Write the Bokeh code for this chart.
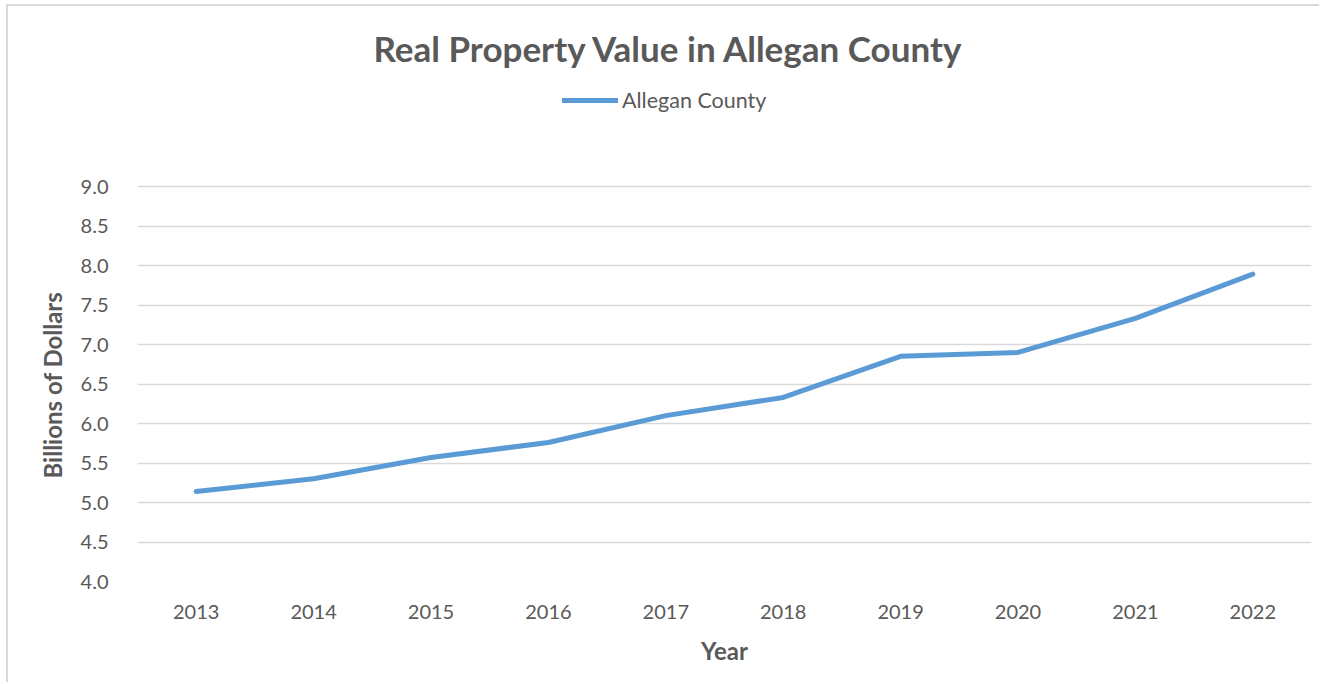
from bokeh.plotting import figure
from bokeh.models import FactorRange, Range1d, FixedTicker, Legend, LegendItem, Title
from bokeh.embed import file_html
from bokeh.resources import INLINE

years = ["2013", "2014", "2015", "2016", "2017", "2018", "2019", "2020", "2021", "2022"]
values = [5.14, 5.30, 5.57, 5.76, 6.10, 6.33, 6.85, 6.90, 7.33, 7.89]
y_ticks = [4.0, 4.5, 5.0, 5.5, 6.0, 6.5, 7.0, 7.5, 8.0, 8.5, 9.0]
series_name = "Allegan County"
title_text = "Real Property Value in Allegan County"
y_title = "Billions of Dollars"
x_title = "Year"

FONT = "Lato"
GRAY = "#595959"
BLUE = "#5B9BD5"

# frame spans page y 70..581; ticks only 4.0..9.0 (79 px per unit)
Y_TOP = 4.0 + (581 - 70) / 79.0

p = figure(width=1313, height=678, output_backend="svg", toolbar_location=None,
           x_range=FactorRange(*years, range_padding=0), y_range=Range1d(4.0, Y_TOP),
           min_border_left=129, min_border_right=10, min_border_top=64, min_border_bottom=103)
p.styles = {"margin-left": "8px", "margin-top": "6px",
            "box-shadow": "-2px -2px 0px 0px #d9d9d9"}
p.title = None

r = p.line(years, values, line_color=BLUE, line_width=5, line_cap="round", line_join="round")

p.outline_line_color = None
p.xgrid.grid_line_color = None
p.ygrid.grid_line_color = "#d9d9d9"
p.ygrid.grid_line_width = 1.3
p.yaxis.ticker = FixedTicker(ticks=y_ticks)
p.yaxis.major_label_overrides = {v: f"{v:.1f}" for v in y_ticks}

for ax in (p.xaxis[0], p.yaxis[0]):
    ax.axis_line_color = None
    ax.major_tick_line_color = None
    ax.minor_tick_line_color = None
    ax.major_tick_out = 0
    ax.major_tick_in = 0
    ax.major_label_text_font = FONT
    ax.major_label_text_font_size = "20px"
    ax.major_label_text_color = GRAY
    ax.axis_label_text_font = FONT
    ax.axis_label_text_font_size = "24px"
    ax.axis_label_text_font_style = "bold"
    ax.axis_label_text_color = GRAY

p.yaxis.major_label_standoff = 29
p.xaxis.axis_label = x_title
p.xaxis.major_label_standoff = 23
p.xaxis.axis_label_standoff = 14

# y-axis title, placed alongside the 4.0..9.0 part of the frame
yt = Title(text=y_title, align="left", text_font=FONT, text_font_size="24px",
           text_font_style="bold", text_color=GRAY, standoff=22, offset=103)
p.add_layout(yt, "left")

legend = Legend(items=[LegendItem(label=series_name, renderers=[r])],
                location=(425, 468), orientation="horizontal",
                label_text_font=FONT, label_text_font_size="21.5px", label_text_color=GRAY,
                glyph_width=56, glyph_height=20, label_height=20, label_standoff=4,
                padding=2, spacing=0, margin=0,
                border_line_color=None, background_fill_alpha=0)
p.add_layout(legend, "center")

t = Title(text=title_text, align="left", text_font=FONT, text_font_size="35px",
          text_font_style="bold", text_color=GRAY, standoff=4, offset=236)
p.add_layout(t, "above")

open("out.html", "w").write(file_html(p, INLINE))
